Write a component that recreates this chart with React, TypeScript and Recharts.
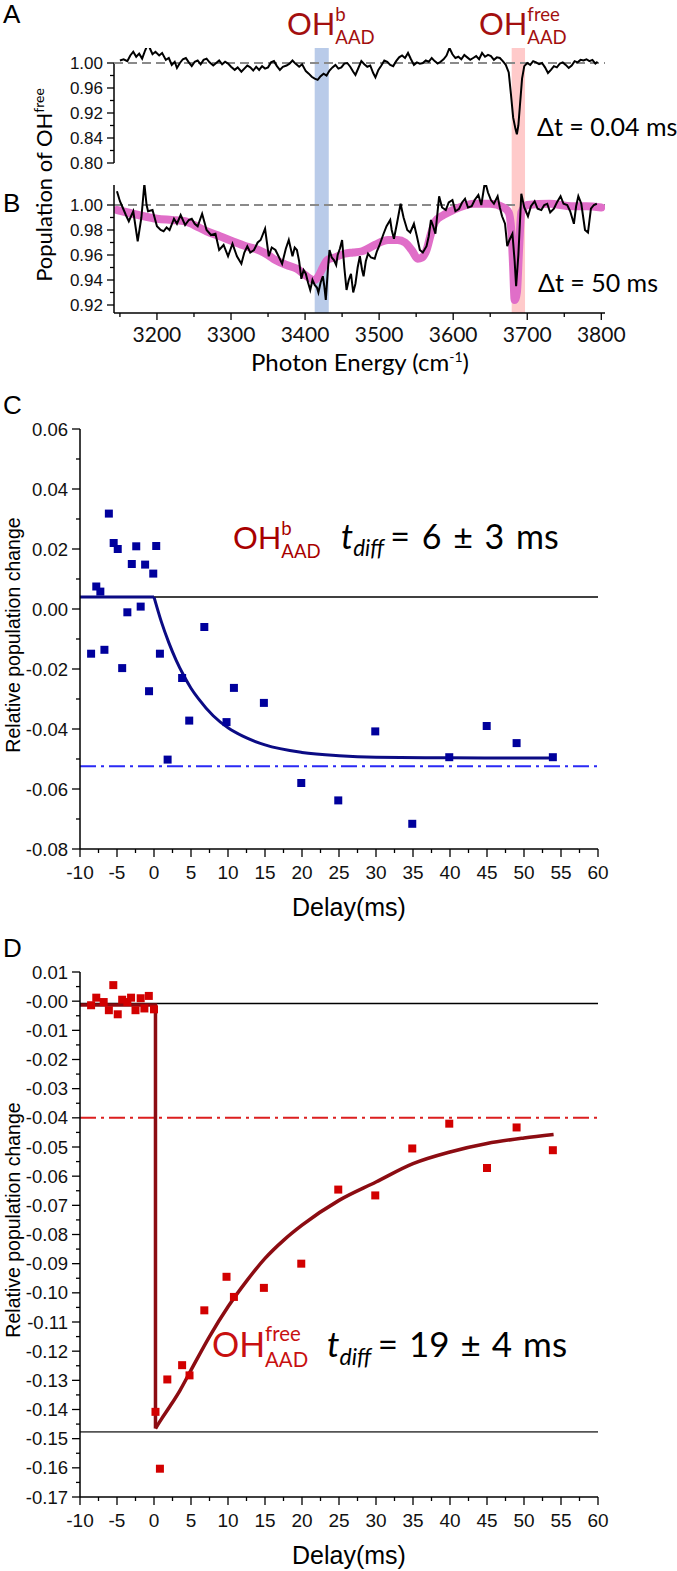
import React from 'react'
import {
  ComposedChart,
  Line,
  Scatter,
  XAxis,
  YAxis,
  ReferenceLine,
  ReferenceArea,
} from 'recharts'

// ─── Spectra (panels A, B) ───────────────────────────────────────────────────

const ENERGY_A = [
  3150, 3155, 3160, 3164, 3168, 3172, 3176, 3180, 3184, 3188, 3191, 3194, 3198, 3203, 3207, 3212, 3216, 3220, 3224, 3227,
  3231, 3235, 3239, 3243, 3247, 3251, 3255, 3259, 3263, 3267, 3271, 3276, 3280, 3284, 3288, 3292, 3296, 3300, 3305, 3309,
  3314, 3318, 3322, 3326, 3330, 3334, 3338, 3342, 3346, 3350, 3354, 3358, 3362, 3366, 3370, 3375, 3379, 3383, 3387, 3392,
  3396, 3401, 3405, 3409, 3413, 3417, 3421, 3425, 3429, 3433, 3437, 3441, 3445, 3449, 3453, 3457, 3461, 3465, 3468, 3472,
  3476, 3480, 3484, 3488, 3492, 3495, 3499, 3503, 3507, 3511, 3515, 3519, 3523, 3527, 3531, 3535, 3539, 3543, 3547, 3551,
  3555, 3559, 3563, 3567, 3571, 3575, 3579, 3583, 3587, 3591, 3595, 3599, 3603, 3607, 3611, 3615, 3619, 3623, 3627, 3631,
  3635, 3639, 3643, 3647, 3651, 3655, 3659, 3663, 3667, 3671, 3675, 3678, 3681, 3684, 3686, 3688, 3690, 3693, 3696, 3700,
  3704, 3708, 3712, 3716, 3720, 3724, 3728, 3732, 3736, 3740, 3744, 3748, 3752, 3756, 3760, 3764, 3768, 3772, 3776, 3780,
  3784, 3788, 3792, 3795,
]
const POP_A = [
  1.004, 1.006, 1.003, 1.012, 1.018, 1.010, 1.015, 1.007, 1.020, 1.031, 1.022, 1.014, 1.018, 1.012, 1.016, 1.005, 1.008, 0.997, 1.002, 0.992,
  1.000, 1.006, 1.008, 1.001, 0.995, 1.002, 1.004, 0.998, 1.005, 1.007, 1.001, 0.996, 1.000, 1.004, 0.998, 1.002, 0.999, 0.994, 0.989, 0.993,
  0.986, 0.991, 0.996, 0.993, 0.988, 0.994, 0.989, 0.995, 0.991, 0.993, 1.001, 1.003, 0.995, 0.989, 0.994, 0.996, 0.999, 1.004, 0.999, 0.994,
  0.998, 0.987, 0.983, 0.978, 0.975, 0.973, 0.979, 0.983, 0.980, 0.988, 0.993, 0.997, 0.991, 0.993, 0.999, 1.000, 0.994, 0.986, 0.981, 0.992,
  1.003, 0.998, 0.994, 0.996, 0.984, 0.977, 0.989, 0.996, 1.004, 1.002, 0.997, 0.995, 1.003, 1.009, 1.012, 1.008, 1.016, 1.006, 0.997, 1.001,
  0.999, 1.000, 1.004, 1.002, 1.008, 1.003, 0.999, 1.002, 1.006, 1.012, 1.024, 1.014, 1.008, 1.010, 1.006, 1.013, 1.009, 1.005, 1.008, 1.011,
  1.006, 1.016, 1.010, 1.013, 1.011, 1.005, 1.009, 1.008, 1.003, 0.997, 0.985, 0.950, 0.905, 0.870, 0.852, 0.880, 0.930, 0.975, 0.995, 1.000,
  0.997, 1.003, 1.001, 0.998, 1.000, 0.993, 0.984, 0.989, 0.995, 0.993, 0.999, 1.001, 0.997, 0.992, 0.996, 1.003, 1.001, 1.005, 1.004, 1.006,
  1.003, 1.005, 0.999, 1.002,
]

const ENERGY_B = [
  3146, 3150, 3153, 3158, 3162, 3168, 3174, 3179, 3183, 3186, 3188, 3194, 3200, 3205, 3209, 3213, 3217, 3223, 3227, 3232,
  3238, 3243, 3247, 3251, 3255, 3261, 3267, 3273, 3279, 3284, 3290, 3296, 3302, 3308, 3314, 3318, 3322, 3326, 3331, 3336,
  3340, 3346, 3351, 3355, 3360, 3365, 3369, 3374, 3378, 3383, 3386, 3389, 3392, 3395, 3398, 3401, 3404, 3407, 3410, 3413,
  3416, 3418, 3421, 3424, 3426, 3428, 3431, 3433, 3436, 3439, 3442, 3444, 3447, 3450, 3453, 3456, 3459, 3462, 3465, 3468,
  3471, 3474, 3477, 3479, 3482, 3485, 3489, 3494, 3497, 3500, 3503, 3506, 3510, 3515, 3517, 3520, 3524, 3529, 3533, 3538,
  3542, 3547, 3551, 3555, 3559, 3564, 3567, 3570, 3573, 3576, 3579, 3581, 3585, 3590, 3594, 3599, 3603, 3608, 3612, 3616,
  3620, 3625, 3629, 3634, 3638, 3643, 3647, 3651, 3655, 3660, 3663, 3666, 3670, 3673, 3676, 3680, 3683, 3685, 3688, 3692,
  3696, 3701, 3705, 3710, 3714, 3719, 3723, 3727, 3731, 3736, 3740, 3745, 3749, 3754, 3758, 3763, 3766, 3769, 3773, 3778,
  3782, 3786, 3790, 3794,
]
const POP_B = [
  1.011, 1.003, 0.999, 0.992, 0.987, 0.995, 0.971, 0.990, 1.017, 1.000, 0.995, 0.996, 0.983, 0.980, 0.979, 0.982, 0.980, 0.989, 0.985, 0.992,
  0.984, 0.988, 0.989, 0.985, 0.983, 0.993, 0.980, 0.976, 0.977, 0.964, 0.968, 0.959, 0.969, 0.959, 0.953, 0.962, 0.967, 0.962, 0.964, 0.970,
  0.972, 0.981, 0.959, 0.966, 0.964, 0.958, 0.953, 0.965, 0.972, 0.959, 0.966, 0.964, 0.955, 0.941, 0.948, 0.945, 0.938, 0.932, 0.940, 0.936,
  0.934, 0.930, 0.938, 0.943, 0.935, 0.924, 0.950, 0.964, 0.958, 0.956, 0.952, 0.960, 0.965, 0.972, 0.950, 0.932, 0.940, 0.945, 0.930, 0.937,
  0.950, 0.959, 0.948, 0.943, 0.955, 0.961, 0.958, 0.957, 0.963, 0.967, 0.972, 0.977, 0.983, 0.988, 0.980, 0.973, 0.985, 1.001, 0.990, 0.980,
  0.978, 0.985, 0.975, 0.964, 0.962, 0.967, 0.975, 0.988, 0.983, 0.977, 0.995, 1.007, 0.998, 0.996, 1.002, 1.004, 0.995, 0.997, 1.002, 1.005,
  0.998, 0.999, 1.004, 1.008, 1.000, 1.019, 1.010, 1.004, 1.001, 1.007, 0.998, 0.991, 0.985, 0.967, 0.972, 0.977, 0.955, 0.935, 0.960, 1.009,
  0.998, 0.991, 0.999, 1.003, 0.997, 0.996, 1.000, 1.001, 0.994, 0.997, 1.002, 1.007, 1.001, 1.000, 0.995, 0.985, 0.999, 1.007, 1.001, 0.980,
  0.978, 0.997, 1.000, 1.001,
]

// smooth (pink) trace in panel B
const ENERGY_B_FIT = [
  3146, 3153, 3175, 3200, 3220, 3238, 3250, 3267, 3285, 3302, 3320, 3337, 3350, 3360, 3375, 3389, 3400, 3407, 3413, 3418,
  3424, 3430, 3440, 3453, 3465, 3477, 3494, 3512, 3525, 3535, 3545, 3552, 3558, 3564, 3570, 3576, 3587, 3600, 3628, 3650,
  3668, 3675, 3679, 3681, 3683, 3686, 3689, 3692, 3700, 3730, 3760, 3780, 3800,
]
const POP_B_FIT = [
  0.996, 0.995, 0.992, 0.989, 0.988, 0.987, 0.984, 0.979, 0.975, 0.971, 0.967, 0.964, 0.960, 0.956, 0.952, 0.949, 0.944, 0.941, 0.940, 0.943,
  0.950, 0.956, 0.958, 0.961, 0.962, 0.963, 0.968, 0.972, 0.972, 0.970, 0.963, 0.957, 0.958, 0.964, 0.977, 0.987, 0.992, 0.996, 1.001, 1.001,
  0.998, 0.994, 0.975, 0.950, 0.924, 0.930, 0.965, 0.994, 1.000, 1.001, 0.999, 0.999, 0.998,
]

const BAND_BONDED = [3413, 3432]
const BAND_FREE = [3679, 3697]

const SPEC_X_TICKS = [3150, 3200, 3250, 3300, 3350, 3400, 3450, 3500, 3550, 3600, 3650, 3700, 3750, 3800]
// panel A has a broken axis: evenly spaced labels
const A_TICK_POS = [1.0, 0.975, 0.95, 0.925, 0.9, 0.875, 0.85, 0.825, 0.8]
const A_TICK_LABELS = ['1.00', '', '0.96', '', '0.92', '', '0.84', '', '0.80']
const B_Y_TICKS = [0.92, 0.93, 0.94, 0.95, 0.96, 0.97, 0.98, 0.99, 1.0]

// ─── Kinetics (panels C, D) ──────────────────────────────────────────────────

const DELAY_C = [
  -8.5, -7.8, -7.25, -6.7, -6.1, -5.45, -4.9, -4.3, -3.6, -3.0, -2.4, -1.8, -1.2, -0.67, -0.1, 0.3, 0.8, 1.84, 3.8, 4.76,
  6.8, 9.8, 10.8, 14.85, 19.9, 24.9, 29.9, 34.9, 39.9, 44.96, 49, 53.9,
]
const CHANGE_C = [
  -0.0149, 0.0075, 0.0058, -0.0136, 0.0318, 0.022, 0.02, -0.0197, -0.0011, 0.015, 0.0209, 0.0008, 0.0148, -0.0274, 0.0118, 0.021, -0.0149, -0.0502, -0.023, -0.0372,
  -0.006, -0.0377, -0.0263, -0.0313, -0.058, -0.0638, -0.0408, -0.0716, -0.0494, -0.039, -0.0447, -0.0494,
]
const FIT_FLAT_DELAY_C = [-10, 0]
const FIT_FLAT_C = [0.004, 0.004]
const FIT_DELAY_C = [0, 1, 2, 3, 4, 5, 6, 8, 10, 12, 15, 20, 25, 30, 40, 54]
const FIT_C = [0.004, -0.0043, -0.0112, -0.0171, -0.0221, -0.0264, -0.0299, -0.0356, -0.0396, -0.0424, -0.0453, -0.0478, -0.0489, -0.0494, -0.0496, -0.0497]
const BASE_C = 0.004
const PLATEAU_C = -0.0524

const DELAY_D = [
  -8.5, -7.8, -6.8, -6.1, -5.5, -4.9, -4.3, -3.6, -3.1, -2.5, -1.8, -1.3, -0.7, 0.0, 0.2, 0.8, 1.8, 3.8, 4.8, 6.8,
  9.8, 10.8, 14.85, 19.9, 24.9, 29.9, 34.9, 39.9, 45, 49, 53.9,
]
const CHANGE_D = [
  -0.0014, 0.0012, -0.0003, -0.0031, 0.0055, -0.0045, 0.0005, -0.0003, 0.0012, -0.0031, 0.001, -0.0025, 0.0018, -0.0028, -0.1408, -0.1603, -0.1297, -0.1248, -0.1283, -0.106,
  -0.0945, -0.1014, -0.0983, -0.09, -0.0646, -0.0666, -0.0505, -0.042, -0.0572, -0.0433, -0.0511,
]
// flat baseline and the vertical drop at t = 0
const FIT_STEP_DELAY_D = [-10, 0.2, 0.2]
const FIT_STEP_D = [-0.0013, -0.0013, -0.1465]
// recovery
const FIT_DELAY_D = [0.2, 1, 2, 3.5, 5, 7.5, 10, 12.5, 15, 17.5, 20, 25, 30, 35, 40, 45, 50, 54]
const FIT_D = [-0.1465, -0.1433, -0.1395, -0.1335, -0.1265, -0.115, -0.1048, -0.096, -0.0882, -0.082, -0.0768, -0.0683, -0.062, -0.0557, -0.0517, -0.0488, -0.0469, -0.0457]
const BASE_D = -0.0008
const PLATEAU_D = -0.04
const FLOOR_D = -0.1477

const DELAY_TICKS = [
  -10, -7.5, -5, -2.5, 0, 2.5, 5, 7.5, 10, 12.5, 15, 17.5, 20, 22.5, 25, 27.5, 30, 32.5, 35, 37.5,
  40, 42.5, 45, 47.5, 50, 52.5, 55, 57.5, 60,
]
const C_Y_TICKS = [-0.08, -0.07, -0.06, -0.05, -0.04, -0.03, -0.02, -0.01, 0, 0.01, 0.02, 0.03, 0.04, 0.05, 0.06]
const D_Y_TICKS = [
  -0.17, -0.165, -0.16, -0.155, -0.15, -0.145, -0.14, -0.135, -0.13, -0.125, -0.12, -0.115, -0.11, -0.105, -0.1, -0.095, -0.09, -0.085, -0.08, -0.075,
  -0.07, -0.065, -0.06, -0.055, -0.05, -0.045, -0.04, -0.035, -0.03, -0.025, -0.02, -0.015, -0.01, -0.005, 0, 0.005, 0.01,
]

// ─── Styling helpers ─────────────────────────────────────────────────────────

const LATO = 'Lato, "Open Sans", sans-serif'
const ARIAL = '"Liberation Sans", Arial, sans-serif'
const TITLE_RED = '#a30f0f'
const PAD = 14 // room above C and D for the top tick label

// broken axis in A: values above 0.92 are stretched, below compressed
function toDisplayA(v: number) {
  return v >= 0.92 ? 1 - (1 - v) * 1.25 : 0.9 - (0.92 - v) * 0.625
}

function zip(xs: number[], ys: number[], f: (v: number) => number = v => v) {
  return xs.map((x, i) => ({ x, y: f(ys[i]) }))
}

interface TickOpts {
  isMajor: (v: number) => boolean
  label: (v: number) => string
  font: string
  size: number
  long: number
  short: number
  gap: number
}

function leftTick(o: TickOpts) {
  return (p: any) => {
    const { x, y, payload } = p
    const v = payload.value as number
    const major = o.isMajor(v)
    return (
      <g>
        <line x1={x} x2={x - (major ? o.long : o.short)} y1={y} y2={y} stroke="#000" strokeWidth={1.3} />
        {major && (
          <text x={x - o.long - o.gap} y={y} textAnchor="end" dominantBaseline="central" fontFamily={o.font} fontSize={o.size} fill="#111">
            {o.label(v)}
          </text>
        )}
      </g>
    )
  }
}

function bottomTick(o: TickOpts) {
  return (p: any) => {
    const { x, y, payload } = p
    const v = payload.value as number
    const major = o.isMajor(v)
    return (
      <g>
        <line x1={x} x2={x} y1={y} y2={y + (major ? o.long : o.short)} stroke="#000" strokeWidth={1.3} />
        {major && (
          <text x={x} y={y + o.long + o.gap} textAnchor="middle" dominantBaseline="central" fontFamily={o.font} fontSize={o.size} fill="#111">
            {o.label(v)}
          </text>
        )}
      </g>
    )
  }
}

const thousandths = (v: number) => Math.round(v * 1000)
const aLabel = (v: number) => A_TICK_LABELS[A_TICK_POS.findIndex(t => Math.abs(t - v) < 1e-6)] ?? ''

const aYTick = leftTick({
  isMajor: v => aLabel(v) !== '',
  label: aLabel,
  font: ARIAL, size: 17, long: 7, short: 4, gap: 4,
})
const bYTick = leftTick({
  isMajor: v => thousandths(v) % 20 === 0,
  label: v => v.toFixed(2),
  font: ARIAL, size: 17, long: 7, short: 4, gap: 4,
})
const specXTick = bottomTick({
  isMajor: v => v % 100 === 0,
  label: v => String(v),
  font: LATO, size: 21, long: 7, short: 4, gap: 13,
})
const delayXTick = bottomTick({
  isMajor: v => v % 5 === 0,
  label: v => String(v),
  font: ARIAL, size: 19, long: 8, short: 4, gap: 15,
})
const cYTick = leftTick({
  isMajor: v => thousandths(v) % 20 === 0,
  label: v => v.toFixed(2),
  font: ARIAL, size: 18.5, long: 8, short: 4, gap: 4,
})
const dYTick = leftTick({
  isMajor: v => thousandths(v) % 10 === 0,
  label: v => (v <= 0 ? '-' + Math.abs(v).toFixed(2) : v.toFixed(2)),
  font: ARIAL, size: 18.5, long: 8, short: 4, gap: 4,
})

const AXIS = { stroke: '#000', strokeWidth: 1.5 }
const NO_ANIM = { isAnimationActive: false }

// ─── Panels ──────────────────────────────────────────────────────────────────

function SpectrumA() {
  return (
    <ComposedChart width={677} height={185} margin={{ top: 48, right: 72, bottom: 0, left: 0 }}>
      <XAxis type="number" dataKey="x" domain={[3142, 3805]} allowDataOverflow hide />
      <YAxis
        type="number"
        domain={[0.756, 1.03]}
        allowDataOverflow
        width={114}
        ticks={A_TICK_POS}
        interval={0}
        tick={aYTick}
        tickSize={0}
        tickMargin={0}
        tickLine={false}
        axisLine={false}
      />
      <ReferenceArea x1={BAND_BONDED[0]} x2={BAND_BONDED[1]} fill="#b9cbe9" fillOpacity={1} stroke="none" />
      <ReferenceArea x1={BAND_FREE[0]} x2={BAND_FREE[1]} fill="#ffcaca" fillOpacity={1} stroke="none" />
      <ReferenceLine segment={[{ x: 3142, y: 1.0 }, { x: 3142, y: 0.8 }]} stroke="#000" strokeWidth={1.5} ifOverflow="visible" />
      <ReferenceLine y={1} stroke="#8a8a8a" strokeWidth={2} strokeDasharray="9 5" />
      <Line data={zip(ENERGY_A, POP_A, toDisplayA)} dataKey="y" stroke="#000" strokeWidth={2} dot={false} {...NO_ANIM} />
    </ComposedChart>
  )
}

function SpectrumB() {
  return (
    <ComposedChart width={677} height={168} margin={{ top: 0, right: 72, bottom: 0, left: 0 }}>
      <XAxis
        type="number"
        dataKey="x"
        domain={[3142, 3805]}
        allowDataOverflow
        ticks={SPEC_X_TICKS}
        interval={0}
        tick={specXTick}
        tickSize={0}
        tickMargin={0}
        tickLine={false}
        axisLine={AXIS}
        height={40}
      />
      <YAxis
        type="number"
        domain={[0.9136, 1.016]}
        allowDataOverflow
        width={114}
        ticks={B_Y_TICKS}
        interval={0}
        tick={bYTick}
        tickSize={0}
        tickMargin={0}
        tickLine={false}
        axisLine={AXIS}
      />
      <ReferenceArea x1={BAND_BONDED[0]} x2={BAND_BONDED[1]} fill="#b9cbe9" fillOpacity={1} stroke="none" />
      <ReferenceArea x1={BAND_FREE[0]} x2={BAND_FREE[1]} fill="#ffcaca" fillOpacity={1} stroke="none" />
      <ReferenceLine y={1} stroke="#8a8a8a" strokeWidth={2} strokeDasharray="9 5" />
      <Line data={zip(ENERGY_B_FIT, POP_B_FIT)} dataKey="y" type="monotone" stroke="#e06ec8" strokeWidth={8} strokeLinecap="round" dot={false} {...NO_ANIM} />
      <Line data={zip(ENERGY_B, POP_B)} dataKey="y" stroke="#000" strokeWidth={2} dot={false} {...NO_ANIM} />
    </ComposedChart>
  )
}

function KineticsC() {
  return (
    <ComposedChart width={677} height={465 + PAD} margin={{ top: PAD, right: 79, bottom: 0, left: 0 }}>
      <XAxis
        type="number"
        dataKey="x"
        domain={[-10, 60]}
        ticks={DELAY_TICKS}
        interval={0}
        tick={delayXTick}
        tickSize={0}
        tickMargin={0}
        tickLine={false}
        axisLine={AXIS}
        height={45}
      />
      <YAxis
        type="number"
        domain={[-0.08, 0.06]}
        allowDataOverflow
        width={80}
        ticks={C_Y_TICKS}
        interval={0}
        tick={cYTick}
        tickSize={0}
        tickMargin={0}
        tickLine={false}
        axisLine={AXIS}
      />
      <ReferenceLine y={BASE_C} stroke="#000" strokeWidth={1.5} />
      <ReferenceLine y={PLATEAU_C} stroke="#2a2af5" strokeWidth={2} strokeDasharray="16 5 3 5" />
      <Scatter data={zip(DELAY_C, CHANGE_C)} dataKey="y" fill="#00009c" shape="square" {...NO_ANIM} />
      <Line data={zip(FIT_FLAT_DELAY_C, FIT_FLAT_C)} dataKey="y" stroke="#0b0b84" strokeWidth={3} dot={false} {...NO_ANIM} />
      <Line data={zip(FIT_DELAY_C, FIT_C)} dataKey="y" type="monotone" stroke="#0b0b84" strokeWidth={3} dot={false} {...NO_ANIM} />
    </ComposedChart>
  )
}

function KineticsD() {
  return (
    <ComposedChart width={677} height={570 + PAD} margin={{ top: PAD, right: 79, bottom: 0, left: 0 }}>
      <XAxis
        type="number"
        dataKey="x"
        domain={[-10, 60]}
        ticks={DELAY_TICKS}
        interval={0}
        tick={delayXTick}
        tickSize={0}
        tickMargin={0}
        tickLine={false}
        axisLine={AXIS}
        height={45}
      />
      <YAxis
        type="number"
        domain={[-0.17, 0.01]}
        allowDataOverflow
        width={80}
        ticks={D_Y_TICKS}
        interval={0}
        tick={dYTick}
        tickSize={0}
        tickMargin={0}
        tickLine={false}
        axisLine={AXIS}
      />
      <ReferenceLine y={BASE_D} stroke="#000" strokeWidth={1.5} />
      <ReferenceLine y={PLATEAU_D} stroke="#dc1f1f" strokeWidth={2} strokeDasharray="16 5 3 5" />
      <ReferenceLine y={FLOOR_D} stroke="#555" strokeWidth={1.8} />
      <Scatter data={zip(DELAY_D, CHANGE_D)} dataKey="y" fill="#d20000" shape="square" {...NO_ANIM} />
      <Line data={zip(FIT_STEP_DELAY_D, FIT_STEP_D)} dataKey="y" stroke="#8c0c12" strokeWidth={3.5} dot={false} {...NO_ANIM} />
      <Line data={zip(FIT_DELAY_D, FIT_D)} dataKey="y" type="monotone" stroke="#8c0c12" strokeWidth={3.5} dot={false} {...NO_ANIM} />
    </ComposedChart>
  )
}

// ─── Labels overlay ──────────────────────────────────────────────────────────

function OHLabel({ x, y, size, sup, color }: { x: number; y: number; size: number; sup: string; color: string }) {
  const small = size * 0.6
  const sx = x + size * 1.56
  return (
    <g fill={color} fontFamily={LATO}>
      <text x={x} y={y} fontSize={size}>OH</text>
      <text x={sx} y={y - size * 0.46} fontSize={small}>{sup}</text>
      <text x={sx} y={y + size * 0.3} fontSize={small}>AAD</text>
    </g>
  )
}

function TDiff({ x, y, size, text, spacing }: { x: number; y: number; size: number; text: string; spacing: number }) {
  return (
    <g fill="#000" fontFamily={LATO}>
      <text x={x} y={y} fontSize={size} fontStyle="italic">t</text>
      <text x={x + size * 0.36} y={y + size * 0.22} fontSize={size * 0.66} fontStyle="italic">diff</text>
      <text x={x + size * 1.45} y={y} fontSize={size} style={{ wordSpacing: spacing }}>{text}</text>
    </g>
  )
}

function Labels() {
  return (
    <svg width={677} height={1571} style={{ position: 'absolute', left: 0, top: 0, pointerEvents: 'none' }}>
      <g fontFamily={ARIAL} fontSize={26} fill="#000">
        <text x={3} y={23}>A</text>
        <text x={3} y={212}>B</text>
        <text x={3} y={414}>C</text>
        <text x={3} y={957}>D</text>
      </g>

      <OHLabel x={287} y={35} size={31} sup="b" color={TITLE_RED} />
      <OHLabel x={479} y={35} size={31} sup="free" color={TITLE_RED} />

      <g fontFamily={LATO} fontSize={25} fill="#000">
        <text x={537} y={136}>Δt = 0.04 ms</text>
        <text x={538} y={292}>Δt = 50 ms</text>
        <text x={360} y={371} fontSize={24} textAnchor="middle">
          Photon Energy (cm<tspan dy={-9} fontSize={14}>-1</tspan><tspan dy={9}>)</tspan>
        </text>
        <text transform="translate(52,185) rotate(-90)" textAnchor="middle" fontSize={22}>
          Population of OH<tspan dy={-8} fontSize={14}>free</tspan>
        </text>
      </g>

      <g fontFamily={ARIAL} fill="#000">
        <text transform="translate(20,635) rotate(-90)" textAnchor="middle" fontSize={19.5}>Relative population change</text>
        <text transform="translate(20,1220) rotate(-90)" textAnchor="middle" fontSize={19.5}>Relative population change</text>
        <text x={349} y={916} textAnchor="middle" fontSize={25}>Delay(ms)</text>
        <text x={349} y={1564} textAnchor="middle" fontSize={25}>Delay(ms)</text>
      </g>

      <OHLabel x={233} y={549} size={31} sup="b" color="#a80000" />
      <TDiff x={341} y={549} size={34} text="= 6 ± 3 ms" spacing={3} />

      <OHLabel x={212} y={1357} size={34} sup="free" color="#c81010" />
      <TDiff x={327} y={1357} size={35} text="= 19 ± 4 ms" spacing={2} />
    </svg>
  )
}

export default function App() {
  return (
    <div style={{ position: 'absolute', left: 0, top: 0, width: 677, height: 1571, background: '#fff', overflow: 'hidden' }}>
      <div style={{ position: 'absolute', left: 0, top: 0 }}>
        <SpectrumA />
      </div>
      <div style={{ position: 'absolute', left: 0, top: 185 }}>
        <SpectrumB />
      </div>
      <div style={{ position: 'absolute', left: 0, top: 429 - PAD }}>
        <KineticsC />
      </div>
      <div style={{ position: 'absolute', left: 0, top: 972 - PAD }}>
        <KineticsD />
      </div>
      <Labels />
    </div>
  )
}
